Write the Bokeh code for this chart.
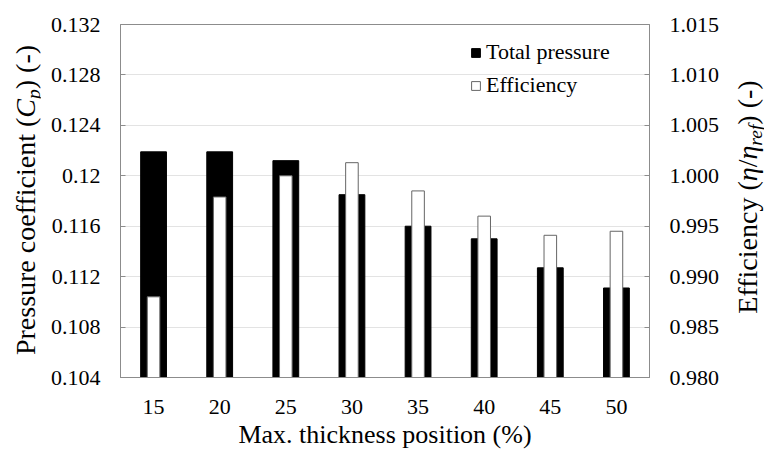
from bokeh.embed import file_html
from bokeh.resources import INLINE
from bokeh.plotting import figure
from bokeh.layouts import row
from bokeh.models import (ColumnDataSource, FactorRange, Range1d, LinearAxis,
                          FixedTicker, Legend, LegendItem, Div)

# ---- data -------------------------------------------------------------
positions = ["15", "20", "25", "30", "35", "40", "45", "50"]
total_pressure = [0.1219, 0.1219, 0.1212, 0.1185, 0.1160, 0.1150, 0.1127, 0.1111]
efficiency = [0.9880, 0.9979, 1.0000, 1.0013, 0.9985, 0.9960, 0.9941, 0.9945]

cp_ticks = [0.104, 0.108, 0.112, 0.116, 0.120, 0.124, 0.128, 0.132]
cp_tick_labels = ["0.104", "0.108", "0.112", "0.116", "0.12", "0.124", "0.128", "0.132"]
eff_ticks = [0.980, 0.985, 0.990, 0.995, 1.000, 1.005, 1.010, 1.015]
eff_tick_labels = ["0.980", "0.985", "0.990", "0.995", "1.000", "1.005", "1.010", "1.015"]

FONT = "Liberation Serif"
TICK_SIZE = "22px"
AXIS_GREY = "#8c8c8c"
SIDE_W = 40          # width of the side columns holding the vertical titles
TOTAL_W, TOTAL_H = 764, 452

source = ColumnDataSource(dict(pos=positions, cp=total_pressure, eff=efficiency))

p = figure(width=TOTAL_W - 2 * SIDE_W, height=TOTAL_H, output_backend="svg",
           toolbar_location=None,
           x_range=FactorRange(*positions), y_range=Range1d(cp_ticks[0], cp_ticks[-1]),
           min_border_left=120 - SIDE_W, min_border_right=115 - SIDE_W,
           min_border_top=24, min_border_bottom=75)
p.extra_y_ranges = {"eff": Range1d(eff_ticks[0], eff_ticks[-1])}
p.background_fill_color = "white"
p.border_fill_color = "white"
p.outline_line_color = AXIS_GREY
p.outline_line_width = 1

# bars: wide black total-pressure bars behind narrow white efficiency bars
r_cp = p.vbar(x="pos", top="cp", bottom=cp_ticks[0], width=0.39, source=source,
              fill_color="black", line_color="black", line_width=1)
r_eff = p.vbar(x="pos", top="eff", bottom=eff_ticks[0], width=0.19, source=source,
               y_range_name="eff", fill_color="white", line_color="#666666",
               line_width=1)

# grid
p.xgrid.grid_line_color = None
p.ygrid.ticker = FixedTicker(ticks=cp_ticks)
p.ygrid.grid_line_color = "#e3e3e3"
p.ygrid.grid_line_width = 1


def style_value_axis(ax, ticks, labels):
    ax.ticker = FixedTicker(ticks=ticks)
    ax.major_label_overrides = {t: s for t, s in zip(ticks, labels)}
    ax.minor_tick_line_color = None
    ax.major_tick_in = 5
    ax.major_tick_out = 0
    ax.major_tick_line_color = AXIS_GREY
    ax.axis_line_color = AXIS_GREY
    ax.major_label_standoff = 20
    ax.major_label_text_font = FONT
    ax.major_label_text_font_size = TICK_SIZE
    ax.major_label_text_color = "black"


style_value_axis(p.yaxis[0], cp_ticks, cp_tick_labels)

ry = LinearAxis(y_range_name="eff")
style_value_axis(ry, eff_ticks, eff_tick_labels)
p.add_layout(ry, "right")

# bottom axis
bx = p.xaxis[0]
bx.major_tick_line_color = None
bx.minor_tick_line_color = None
bx.axis_line_color = AXIS_GREY
bx.major_label_standoff = 16
bx.major_label_text_font = FONT
bx.major_label_text_font_size = TICK_SIZE
bx.major_label_text_color = "black"
bx.axis_label = "Max. thickness position (%)"
bx.axis_label_text_font = FONT
bx.axis_label_text_font_size = "26px"
bx.axis_label_text_font_style = "normal"
bx.axis_label_text_color = "black"
bx.axis_label_standoff = 3

# ---- legend -------------------------------------------------------------
legend = Legend(items=[LegendItem(label="Total pressure", renderers=[r_cp]),
                       LegendItem(label="Efficiency", renderers=[r_eff])],
                location=(350, 279))
legend.label_text_font = FONT
legend.label_text_font_size = TICK_SIZE
legend.label_text_color = "black"
legend.glyph_width = 11
legend.glyph_height = 11
legend.label_standoff = 5
legend.spacing = 7
legend.padding = 0
legend.margin = 0
legend.border_line_color = None
legend.background_fill_alpha = 0
p.add_layout(legend, "center")


# ---- vertical axis titles (italic symbols and subscripts) ---------------
def vertical_title(html, left, center_y):
    return Div(
        text=(f'<div style="position:relative;width:{SIDE_W}px;height:{TOTAL_H}px;">'
              f'<span style="position:absolute;left:{left}px;top:{center_y}px;'
              'transform-origin:0 0;transform:rotate(-90deg) translateX(-50%);'
              'white-space:nowrap;line-height:1;font-family:\'Liberation Serif\';'
              f'font-size:28px;color:#000;">{html}</span></div>'),
        width=SIDE_W, height=TOTAL_H, margin=(0, 0, 0, 0))


SUB = '<sub style="font-size:0.7em;vertical-align:-0.25em;line-height:0">{}</sub>'

left_title = vertical_title(
    "Pressure coefficient (<i>C</i>" + SUB.format("<i>p</i>") + ") (-)", 11.5, 200)
right_title = vertical_title(
    "Efficiency (<i>η</i>/<i>η</i>" + SUB.format("<i>ref</i>") + ") (-)", 9.5, 197)

layout = row(left_title, p, right_title, spacing=0)

open("out.html", "w").write(file_html(layout, INLINE))
